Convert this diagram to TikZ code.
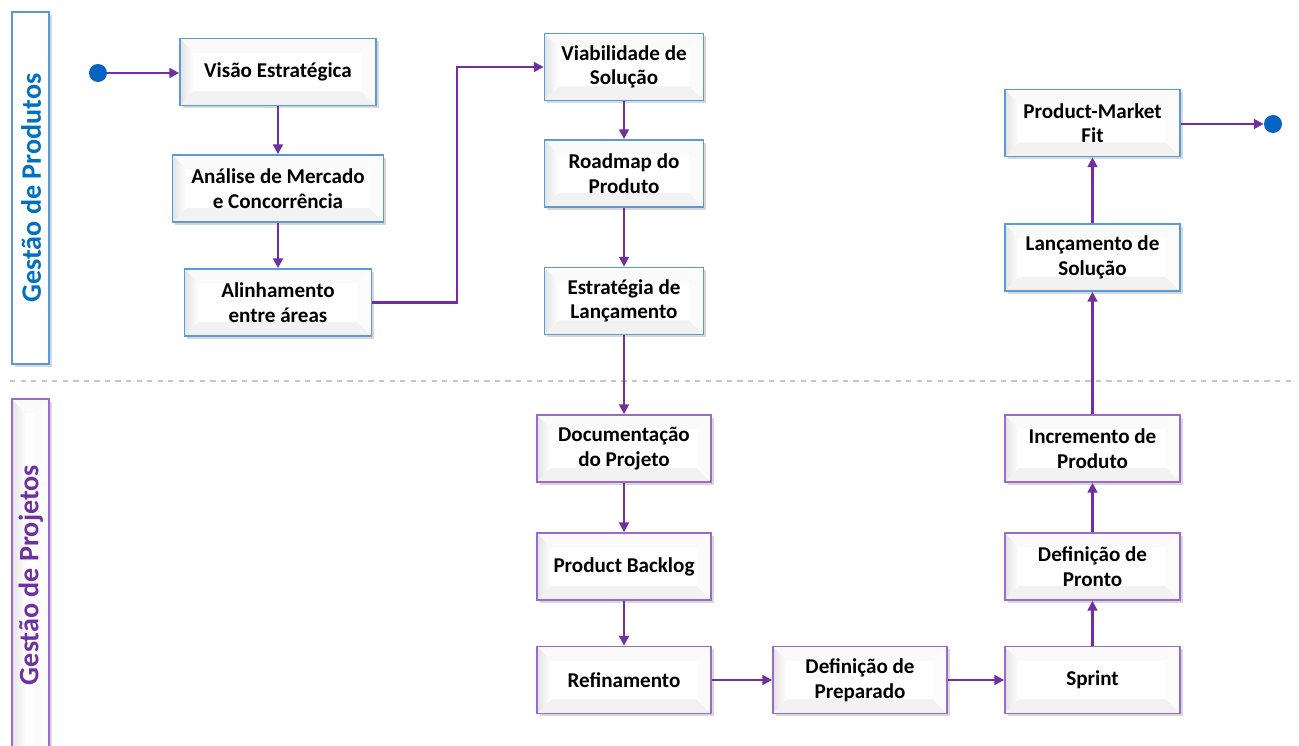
\documentclass[tikz,border=0pt]{standalone}
\usepackage{fontspec}
\setmainfont{Carlito}
\usetikzlibrary{shadows,arrows.meta,calc}
\definecolor{pblue}{HTML}{5B9BD5}
\definecolor{tblue}{HTML}{0070C0}
\definecolor{ppurp}{HTML}{7030A0}
\definecolor{bpurp}{HTML}{9A6BCB}
\definecolor{dotblue}{HTML}{0563C1}
\tikzset{
  bev/.style={path picture={
    \coordinate (sw) at (path picture bounding box.south west);
    \coordinate (ne) at (path picture bounding box.north east);
    \coordinate (nw) at (sw|-ne);
    \coordinate (se) at (ne|-sw);
    \shade[left color=gray!22,right color=white] (sw) -- (nw) -- ($(nw)+(8pt,-8pt)$) -- ($(sw)+(8pt,8pt)$) -- cycle;
    \fill[gray!4] (nw) -- (ne) -- ($(ne)+(-8pt,-8pt)$) -- ($(nw)+(8pt,-8pt)$) -- cycle;
    \fill[gray!10] (sw) -- (se) -- ($(se)+(-8pt,8pt)$) -- ($(sw)+(8pt,8pt)$) -- cycle;
    \fill[gray!3] (se) -- (ne) -- ($(ne)+(-8pt,-8pt)$) -- ($(se)+(-8pt,8pt)$) -- cycle;
  }},
  box/.style={draw, line width=1pt, fill=white, bev,
    drop shadow={opacity=0.3, shadow xshift=1.5pt, shadow yshift=-1.5pt},
    font=\bfseries\fontsize{12}{14}\selectfont, align=center,
    minimum height=1.34cm, inner sep=2pt},
  pb/.style={box, draw=pblue},
  jb/.style={box, draw=bpurp},
  conn/.style={draw=ppurp, line width=1.3pt, -{Triangle[length=5.5pt,width=5.5pt]}},
  dot/.style={circle, fill=dotblue, minimum size=0.36cm, inner sep=0pt},
  lane/.style={line width=1pt, fill=white,
    drop shadow={opacity=0.3, shadow xshift=1.5pt, shadow yshift=-1.5pt},
    minimum width=0.74cm, inner sep=0pt},
  lanetext/.style={rotate=90, font=\bfseries\fontsize{16}{18}\selectfont}
}
\begin{document}
\begin{tikzpicture}[x=0.02cm,y=-0.02cm]
\useasboundingbox (0,0) rectangle (1299,746);
\clip (0,0) rectangle (1299,746);
\fill[white] (0,0) rectangle (1299,746);

% lanes
\node[lane, draw=pblue, minimum height=7.04cm] (lane1) at (30.5,188) {};
\node[lanetext, text=tblue] (l1) at (31,188) {Gestão de Produtos};
\node[lane, draw=bpurp, bev, minimum height=7.62cm] (lane2) at (30.5,589.5) {};
\node[lanetext, text=ppurp] (l2) at (31,575) {Gestão de Projetos};
\coordinate (dl) at (10,381);
\coordinate (dr) at (1295,381);
\draw[gray!45, dashed, line width=0.6pt] (dl) -- (dr);

% top lane
\node[dot] (start) at (98,73) {};
\node[pb, minimum width=3.92cm] (vis) at (278,72) {Visão Estratégica};
\node[pb, minimum width=4.22cm] (ana) at (278,188.5) {Análise de Mercado\\e Concorrência};
\node[pb, minimum width=3.74cm] (ali) at (278,302.5) {Alinhamento\\entre áreas};
\node[pb, minimum width=3.18cm] (via) at (624,67) {Viabilidade de\\Solução};
\node[pb, minimum width=3.18cm] (road) at (624,173.5) {Roadmap do\\Produto};
\node[pb, minimum width=3.18cm] (est) at (624,301) {Estratégia de\\Lançamento};
\node[pb, minimum width=3.5cm] (pmf) at (1092.5,123) {Product-Market\\Fit};
\node[pb, minimum width=3.5cm] (lanc) at (1092.5,257.5) {Lançamento de\\Solução};
\node[dot] (end) at (1273,124) {};

% bottom lane
\node[jb, minimum width=3.48cm] (doc) at (624,448.5) {Documentação\\do Projeto};
\node[jb, minimum width=3.48cm] (back) at (624,566.5) {Product Backlog};
\node[jb, minimum width=3.48cm] (ref) at (624,680) {Refinamento};
\node[jb, minimum width=3.48cm] (prep) at (860,680) {Definição de\\Preparado};
\node[jb, minimum width=3.5cm] (spr) at (1092.5,680) {Sprint};
\node[jb, minimum width=3.5cm] (pron) at (1092.5,566.5) {Definição de\\Pronto};
\node[jb, minimum width=3.5cm] (inc) at (1092.5,448.5) {Incremento de\\Produto};

% connectors
\draw[conn] (start) -- (vis.west|-start);
\draw[conn] (vis.south) -- (ana.north);
\draw[conn] (ana.south) -- (ali.north);
\draw[conn] (ali.east) -- (457,302.5) -- (457,67) -- (via.west);
\draw[conn] (via.south) -- (road.north);
\draw[conn] (road.south) -- (est.north);
\draw[conn] (est.south) -- (doc.north);
\draw[conn] (doc.south) -- (back.north);
\draw[conn] (back.south) -- (ref.north);
\draw[conn] (ref.east) -- (prep.west);
\draw[conn] (prep.east) -- (spr.west);
\draw[conn] (spr.north) -- (pron.south);
\draw[conn] (pron.north) -- (inc.south);
\draw[conn] (inc.north) -- (lanc.south);
\draw[conn] (lanc.north) -- (pmf.south);
\draw[conn] (pmf.east|-end) -- (end);
\end{tikzpicture}
\end{document}
